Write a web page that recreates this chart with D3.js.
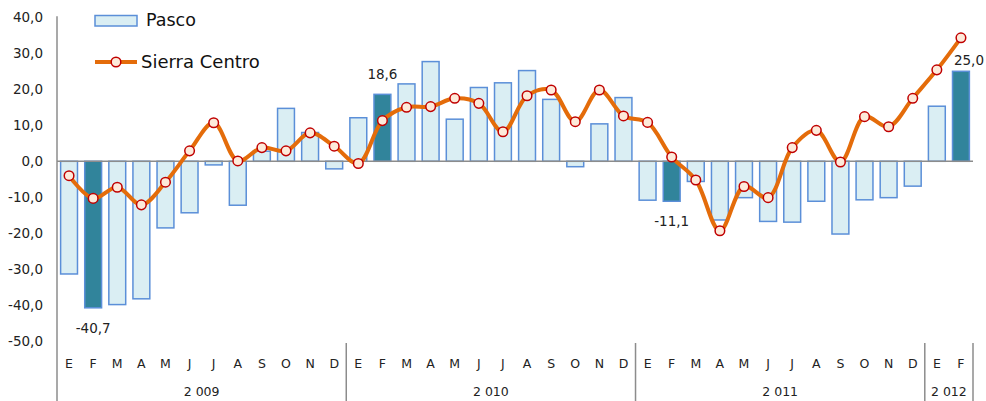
<!DOCTYPE html>
<html>
<head>
<meta charset="utf-8">
<script src="https://cdn.jsdelivr.net/npm/d3@7"></script>
<style>
  body { margin: 0; background: #fff; }
  svg { display: block; font-family: "DejaVu Sans", sans-serif; }
</style>
</head>
<body>
<svg id="chart" width="986" height="401"></svg>
<script>
// months and years
var months = ["E","F","M","A","M","J","J","A","S","O","N","D",
              "E","F","M","A","M","J","J","A","S","O","N","D",
              "E","F","M","A","M","J","J","A","S","O","N","D",
              "E","F"];
var years = [
  { label: "2 009", start: 0, end: 12 },
  { label: "2 010", start: 12, end: 24 },
  { label: "2 011", start: 24, end: 36 },
  { label: "2 012", start: 36, end: 38 }
];

// Pasco (bars)
var pasco = [-31.3, -40.7, -39.8, -38.2, -18.5, -14.3, -1.0, -12.2, 2.8, 14.7, 8.0, -2.1,
             12.1, 18.6, 21.5, 27.7, 11.7, 20.5, 21.8, 25.2, 17.2, -1.5, 10.4, 17.7,
             -10.8, -11.1, -5.6, -16.3, -10.1, -16.7, -16.9, -11.1, -20.2, -10.7, -10.1, -6.9,
             15.3, 25.0];

// Sierra Centro (line)
var sierra = [-4.0, -10.3, -7.2, -12.1, -5.8, 2.9, 10.7, 0.1, 3.8, 2.9, 7.9, 4.2,
              -0.6, 11.3, 15.0, 15.2, 17.5, 16.1, 8.2, 18.2, 19.8, 11.0, 19.8, 12.6,
              10.8, 1.2, -5.2, -19.3, -7.0, -10.1, 3.8, 8.6, -0.2, 12.4, 9.6, 17.5,
              25.4, 34.3];

// highlighted bars and their labels
var highlights = [1, 13, 25, 37];

var yTicks = [40, 30, 20, 10, 0, -10, -20, -30, -40, -50];

var svg = d3.select("#chart");
// comma decimals, plain hyphen for negatives
var fmt = function(v) { return d3.format(".1f")(v).replace("\u2212", "-").replace(".", ","); };

var left = 57, right = 973;
var x = d3.scaleBand()
  .domain(d3.range(months.length))
  .range([left, right])
  .paddingInner(0.3)
  .paddingOuter(0.15);

var y = d3.scaleLinear()
  .domain([-50, 40])
  .range([341.3, 17.3]);

var cx = function(i) { return x(i) + x.bandwidth() / 2; };

// y axis labels
svg.append("g").selectAll("text")
  .data(yTicks)
  .enter().append("text")
  .attr("x", 43)
  .attr("y", function(d) { return y(d); })
  .attr("dy", "0.35em")
  .attr("text-anchor", "end")
  .attr("font-size", 13.5)
  .attr("fill", "#222")
  .text(fmt);

// bars
svg.append("g").selectAll("rect")
  .data(pasco)
  .enter().append("rect")
  .attr("x", function(d, i) { return x(i); })
  .attr("width", x.bandwidth())
  .attr("y", function(d) { return d >= 0 ? y(d) : y(0); })
  .attr("height", function(d) { return Math.abs(y(d) - y(0)); })
  .attr("fill", function(d, i) { return highlights.indexOf(i) >= 0 ? "#31849B" : "#DAEEF3"; })
  .attr("stroke", "#5B8FD8")
  .attr("stroke-width", 1.5);

// zero line
svg.append("line")
  .attr("x1", left).attr("x2", right)
  .attr("y1", y(0)).attr("y2", y(0))
  .attr("stroke", "#8c8c8c").attr("stroke-width", 1.5);

// axis line + year separators
svg.append("line")
  .attr("x1", left).attr("x2", left)
  .attr("y1", y(40) - 1).attr("y2", 401)
  .attr("stroke", "#8c8c8c").attr("stroke-width", 1.5);

svg.append("g").selectAll("line")
  .data(years)
  .enter().append("line")
  .attr("x1", function(d) { return x(d.end - 1) + x.step() * 0.85; })
  .attr("x2", function(d) { return x(d.end - 1) + x.step() * 0.85; })
  .attr("y1", 343).attr("y2", 401)
  .attr("stroke", "#8c8c8c").attr("stroke-width", 1.5);

// month labels
svg.append("g").selectAll("text")
  .data(months)
  .enter().append("text")
  .attr("x", function(d, i) { return cx(i); })
  .attr("y", 364)
  .attr("dy", "0.35em")
  .attr("text-anchor", "middle")
  .attr("font-size", 12.5)
  .attr("fill", "#222")
  .text(function(d) { return d; });

// year labels
svg.append("g").selectAll("text")
  .data(years)
  .enter().append("text")
  .attr("x", function(d) { return (cx(d.start) + cx(d.end - 1)) / 2; })
  .attr("y", 392)
  .attr("dy", "0.35em")
  .attr("text-anchor", "middle")
  .attr("font-size", 12.5)
  .attr("fill", "#222")
  .text(function(d) { return d.label; });

// line
var line = d3.line()
  .x(function(d, i) { return cx(i); })
  .y(function(d) { return y(d); })
  .curve(d3.curveCatmullRom.alpha(0.5));

svg.append("path")
  .datum(sierra)
  .attr("d", line)
  .attr("fill", "none")
  .attr("stroke", "#E46C0A")
  .attr("stroke-width", 4)
  .attr("stroke-linejoin", "round");

svg.append("g").selectAll("circle")
  .data(sierra)
  .enter().append("circle")
  .attr("cx", function(d, i) { return cx(i); })
  .attr("cy", function(d) { return y(d); })
  .attr("r", 4.8)
  .attr("fill", "#FDEADA")
  .attr("stroke", "#C00000")
  .attr("stroke-width", 1.5);

// data labels on highlighted bars
svg.append("g").selectAll("text")
  .data(highlights)
  .enter().append("text")
  .attr("x", function(i) { return cx(i) + (i === 37 ? 8 : 0); })
  .attr("y", function(i) { return pasco[i] >= 0 ? y(pasco[i]) - (i === 37 ? 11 : 20) : y(pasco[i]) + 20; })
  .attr("dy", "0.35em")
  .attr("text-anchor", "middle")
  .attr("font-size", 13.5)
  .attr("fill", "#222")
  .text(function(i) { return fmt(pasco[i]); });

// legend
var lg = svg.append("g");
lg.append("rect")
  .attr("x", 95).attr("y", 15.5).attr("width", 42).attr("height", 10.5)
  .attr("fill", "#DAEEF3").attr("stroke", "#5B8FD8").attr("stroke-width", 1.5);
lg.append("text")
  .attr("x", 146).attr("y", 20).attr("dy", "0.35em")
  .attr("font-size", 17.5).attr("fill", "#111")
  .text("Pasco");
lg.append("line")
  .attr("x1", 95).attr("x2", 137).attr("y1", 62).attr("y2", 62)
  .attr("stroke", "#E46C0A").attr("stroke-width", 4);
lg.append("circle")
  .attr("cx", 116).attr("cy", 62).attr("r", 4.8)
  .attr("fill", "#FDEADA").attr("stroke", "#C00000").attr("stroke-width", 1.5);
lg.append("text")
  .attr("x", 141).attr("y", 62).attr("dy", "0.35em")
  .attr("font-size", 18).attr("fill", "#111")
  .text("Sierra Centro");
</script>
</body>
</html>
